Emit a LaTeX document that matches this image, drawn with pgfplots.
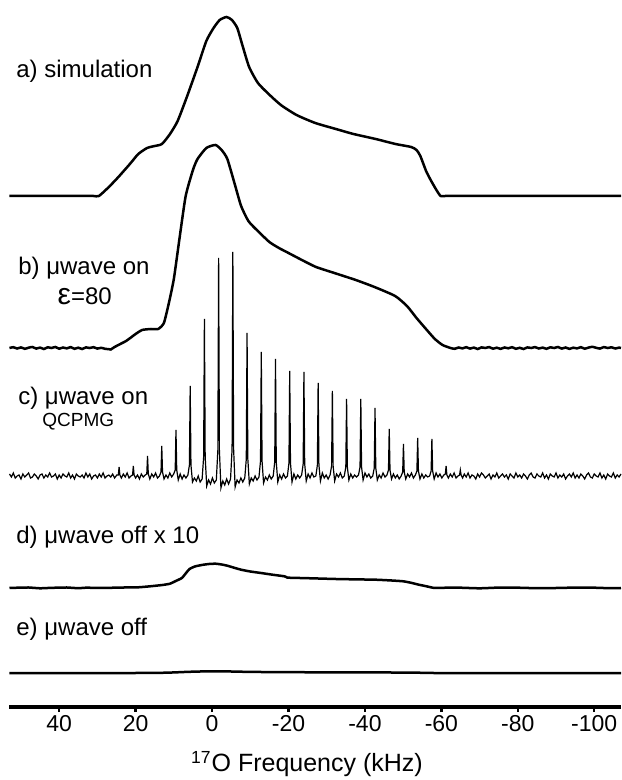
\documentclass[border=0pt]{standalone}
\usepackage{fontspec}
\setmainfont{Liberation Sans}
\usepackage{graphicx}
\usepackage{pgfplots}
\pgfplotsset{compat=1.18}
\begin{document}
\begin{tikzpicture}
\useasboundingbox (-4.75pt,-36.5pt) rectangle (305.75pt,353.5pt);
\begin{axis}[
  scale only axis,
  width=305.75pt, height=353.5pt,
  xmin=-107, xmax=53, x dir=reverse,
  ymin=5.5, ymax=712.5,
  axis x line=bottom, axis y line=none,
  x axis line style={-, line width=1.6pt},
  xtick={40,20,0,-20,-40,-60,-80,-100},
  major tick length=2.5pt,
  every tick/.style={black, line width=1.2pt},
  tick align=outside,
  /pgf/number format/assume math mode=true,
  xticklabel style={font=\fontsize{11.5}{13}\selectfont, anchor=north, yshift=2pt},
  xlabel={\textsuperscript{17}O Frequency (kHz)},
  xlabel style={font=\fontsize{12.5}{14}\selectfont, at={(rel axis cs:0.4865,-0.0806)}, anchor=center},
  clip=false,
]
% a) simulation
\addplot[black, line width=1.25pt, smooth, tension=0.35, y filter/.expression={y+516.5}] coordinates {
(53,0) (40,0) (33,0) (31,0) (29.6,0) (27,9) (24.5,19) (21.5,32) (19.3,42) (17,48) (15,50) (13.1,52)
(11,62) (9,75) (6.5,100) (3.8,129) (1.5,155) (-0.4,168) (-2,176) (-3.8,179)
(-5.2,176) (-6.6,168) (-8,150) (-9.7,129) (-12,113) (-14.8,102) (-18,91) (-22.1,81)
(-27,73) (-32.4,67) (-37,62) (-42.8,57) (-48,52) (-52.1,49) (-53.5,46) (-54.5,40)
(-56,25) (-57.2,16) (-58.7,6) (-59.8,0) (-61,0) (-63,0) (-70,0) (-85,0) (-107,0)
};
% b) mu wave on, eps=80
\addplot[black, line width=1.25pt, smooth, tension=0.35, y filter/.expression={y+364.5}] coordinates {
(53,0) (52,0.8) (51,-0.5) (50,0.6) (49,-0.8) (48,0.3) (47,1) (46,-0.6) (45,0.4)
(44,-1) (43,0.7) (42,0) (41,1) (40,-0.7) (39,0.5) (38,-0.4) (37,0.9) (36,-0.8)
(35,0.3) (34,-1) (33,0.6) (32,0) (31,0.8) (30,-0.6) (29,0.2) (28,-0.8) (27,-1.2)
(26.5,-1.5) (25.5,1) (24,4) (22.5,7) (21.4,10) (20,14) (18.3,18) (16,19) (14.1,19)
(12.6,25) (11.3,45) (10,69) (8.5,110) (6.9,152) (5,178) (3.8,189) (1.5,200)
(-0.9,203) (-2.5,198) (-4,189) (-6,163) (-7.6,142) (-9.5,127) (-11.7,118) (-15,106)
(-17.5,100) (-20,95) (-23.5,88) (-27.2,81) (-32,75) (-37.6,68) (-42.5,61) (-47.9,52)
(-51,42) (-53.5,30) (-56.2,18) (-58.3,9) (-60.3,3) (-62.4,0) (-63.5,-0.8) (-64.5,0.5)
(-65.5,-0.4) (-66.5,0.8) (-67.5,-0.6) (-68.5,0.4) (-69.5,-1) (-70.5,0.6) (-71.5,0)
(-72.5,0.9) (-73.5,-0.7) (-74.5,0.3) (-75.5,-0.9) (-76.5,0.5) (-77.5,-0.3) (-78.5,0.8)
(-79.5,-0.8) (-80.5,0.2) (-81.5,-1) (-82.5,0.6) (-83.5,0) (-84.5,0.9) (-85.5,-0.5)
(-86.5,0.4) (-87.5,-0.8) (-88.5,0.7) (-89.5,0) (-90.5,1) (-91.5,-0.6) (-92.5,0.5)
(-93.5,-0.9) (-94.5,0.3) (-95.5,-0.4) (-96.5,0.8) (-97.5,-0.7) (-98.5,0.4) (-99.5,1.2)
(-100.5,0.2) (-101.5,-0.6) (-102.5,0.9) (-103.5,0) (-104.5,0.7) (-105.5,-0.5) (-106.5,0.4) (-107,0)
};
% c) QCPMG
\addplot[black, line width=0.6pt, y filter/.expression={y+236.5}] coordinates {
(53,2) (52.5,-1) (52,3) (51.5,-2) (51,0) (50.5,1) (50,-3) (49.5,2) (49,-1) (48.5,1)
(48,3) (47.5,-2) (47,-1) (46.5,2) (46,0) (45.5,-3) (45,1) (44.5,2) (44,-2) (43.5,1)
(43,-1) (42.5,3) (42,-1) (41.5,0) (41,2) (40.5,-3) (40,1) (39.5,-2) (39,2) (38.5,0)
(38,-1) (37.5,3) (37,-2) (36.5,1) (36,-3) (35.5,2) (35,0) (34.5,-1) (34,1) (33.5,-2)
(33,3) (32.5,-1) (32,2) (31.5,-3) (31,0) (30.5,1) (30,-2) (29.5,2) (29,-1) (28.5,3)
(28,-2) (27.5,0) (27,1) (26.5,-1) (26,2) (25.5,-2)
(24.92,1) (24.52,1) (24.32,9) (24.12,1) (23.72,-2) (23.22,2) (22.72,-1) (22.22,3) (21.72,-2)
(21.2,0) (20.8,1) (20.6,10) (20.4,1) (20.0,-2) (19.5,1) (19.0,-3) (18.5,2) (18.0,-1)
(17.48,1) (17.08,2) (16.88,20) (16.68,2) (16.28,-3) (15.78,2) (15.28,-1) (14.78,3) (14.28,-2)
(13.76,0) (13.36,4) (13.16,30) (12.96,4) (12.56,-3) (12.06,1) (11.56,-2) (11.06,3) (10.56,-1)
(10.04,2) (9.64,6) (9.44,46) (9.24,6) (8.84,-4) (8.34,2) (7.84,-3) (7.34,1) (6.84,-2)
(6.32,1) (5.92,11) (5.72,90) (5.52,11) (5.12,-6) (4.62,-2) (4.12,-5) (3.62,0) (3.12,-6)
(2.6,-3) (2.2,19) (2.0,157) (1.8,19) (1.4,-10) (0.9,-4) (0.4,-8) (-0.1,-2) (-0.6,-7)
(-1.12,-4) (-1.52,26) (-1.72,218) (-1.92,26) (-2.32,-12) (-2.82,-5) (-3.32,-9) (-3.82,-3) (-4.32,-8)
(-4.84,-3) (-5.24,27) (-5.44,224) (-5.64,27) (-6.04,-11) (-6.54,-4) (-7.04,-7) (-7.54,-2) (-8.04,-6)
(-8.56,-2) (-8.96,17) (-9.16,143) (-9.36,17) (-9.76,-8) (-10.26,-2) (-10.76,-5) (-11.26,0) (-11.76,-4)
(-12.28,-1) (-12.68,15) (-12.88,124) (-13.08,15) (-13.48,-7) (-13.98,-1) (-14.48,-4) (-14.98,1) (-15.48,-3)
(-16.0,0) (-16.4,14) (-16.6,117) (-16.8,14) (-17.2,-6) (-17.7,1) (-18.2,-3) (-18.7,2) (-19.2,-2)
(-19.72,0) (-20.12,13) (-20.32,105) (-20.52,13) (-20.92,-6) (-21.42,2) (-21.92,-3) (-22.42,1) (-22.92,-2)
(-23.44,1) (-23.84,12) (-24.04,104) (-24.24,12) (-24.64,-5) (-25.14,2) (-25.64,-2) (-26.14,3) (-26.64,-1)
(-27.16,0) (-27.56,11) (-27.76,93) (-27.96,11) (-28.36,-5) (-28.86,3) (-29.36,-2) (-29.86,1) (-30.36,-3)
(-30.88,1) (-31.28,10) (-31.48,85) (-31.68,10) (-32.08,-5) (-32.58,2) (-33.08,-1) (-33.58,3) (-34.08,-2)
(-34.6,0) (-35.0,9) (-35.2,77) (-35.4,9) (-35.8,-4) (-36.3,2) (-36.8,-2) (-37.3,1) (-37.8,-1)
(-38.32,1) (-38.72,9) (-38.92,77) (-39.12,9) (-39.52,-4) (-40.02,3) (-40.52,-1) (-41.02,2) (-41.52,-2)
(-42.04,0) (-42.44,8) (-42.64,68) (-42.84,8) (-43.24,-4) (-43.74,1) (-44.24,-2) (-44.74,3) (-45.24,-1)
(-45.76,1) (-46.16,6) (-46.36,47) (-46.56,6) (-46.96,-3) (-47.46,2) (-47.96,-2) (-48.46,1) (-48.96,-3)
(-49.48,0) (-49.88,4) (-50.08,32) (-50.28,4) (-50.68,-3) (-51.18,2) (-51.68,-1) (-52.18,3) (-52.68,-2)
(-53.2,1) (-53.6,5) (-53.8,38) (-54.0,5) (-54.4,-3) (-54.9,2) (-55.4,-2) (-55.9,1) (-56.4,-1)
(-56.92,0) (-57.32,5) (-57.52,37) (-57.72,5) (-58.12,-3) (-58.62,3) (-59.12,-1) (-59.62,2) (-60.12,-2)
(-60.64,1) (-61.04,2) (-61.24,10) (-61.44,1) (-61.84,-2) (-62.34,2) (-62.84,-1) (-63.34,3) (-63.84,-2)
(-64.36,0) (-64.76,1) (-64.96,6) (-65.16,1) (-65.56,-2)
(-66,2) (-66.5,-1) (-67,3) (-67.5,-2) (-68,1) (-68.5,0) (-69,-3) (-69.5,2) (-70,-1) (-70.5,3)
(-71,1) (-71.5,-2) (-72,0) (-72.5,2) (-73,-3) (-73.5,1) (-74,-1) (-74.5,3) (-75,-2) (-75.5,0)
(-76,2) (-76.5,-1) (-77,1) (-77.5,-3) (-78,2) (-78.5,0) (-79,-2) (-79.5,3) (-80,-1) (-80.5,1)
(-81,-2) (-81.5,2) (-82,0) (-82.5,-3) (-83,1) (-83.5,3) (-84,-1) (-84.5,-2) (-85,2) (-85.5,0)
(-86,-1) (-86.5,3) (-87,-2) (-87.5,1) (-88,-3) (-88.5,2) (-89,0) (-89.5,-1) (-90,3) (-90.5,-2)
(-91,1) (-91.5,-1) (-92,2) (-92.5,-3) (-93,0) (-93.5,2) (-94,-1) (-94.5,3) (-95,-2) (-95.5,1)
(-96,-2) (-96.5,2) (-97,0) (-97.5,-3) (-98,1) (-98.5,3) (-99,-1) (-99.5,-2) (-100,2) (-100.5,0)
(-101,-1) (-101.5,3) (-102,-2) (-102.5,1) (-103,-3) (-103.5,2) (-104,0) (-104.5,-1) (-105,3) (-105.5,-2)
(-106,1) (-106.5,-1) (-107,2)
};
% d) mu wave off x 10
\addplot[black, line width=1.25pt, smooth, tension=0.35, y filter/.expression={y+124.5}] coordinates {
(53,0) (50,0.4) (48,0.5) (45,-0.3) (43,0) (40,0.4) (38,0.5) (35,-0.2) (33,0.3) (30,0.1)
(28,0) (25,0.4) (23,0.5) (19.3,0.7) (16.2,1.7) (13,3) (11,4.3) (9.5,7) (7.9,10) (6.8,15)
(5.9,19) (4.5,21.5) (2.7,23) (0.8,24) (-0.9,24.3) (-2.5,23.5) (-4,22.3) (-6,20) (-7.6,18.3)
(-10,16.5) (-12.8,15) (-16,13.2) (-18.9,11.7) (-19.6,10.6) (-20,10.3) (-25,9.8) (-32.4,9)
(-38,8.6) (-42.8,8.3) (-47,7.5) (-50,6.7) (-52,5.3) (-54.1,3.3) (-56,1.8) (-58.3,0)
(-62,0.4) (-65,0.3) (-70,-0.3) (-75,0.4) (-80,0.3) (-85,-0.2) (-90,0) (-95,0.4) (-100,0.3) (-104,-0.2) (-107,0)
};
% e) mu wave off
\addplot[black, line width=1.25pt, smooth, tension=0.35, y filter/.expression={y+39.5}] coordinates {
(53,0) (40,0) (30,0) (20,0) (12,0.3) (6,1.2) (2,1.6) (-1,1.7) (-5,1.5) (-10,1.1) (-20,0.8)
(-30,0.7) (-40,0.6) (-52,0.4) (-58,0) (-65,0) (-80,0) (-95,0) (-107,0)
};
% labels
\begin{scope}[every node/.style={inner sep=0pt, anchor=west, font=\fontsize{12}{14}\selectfont}]
\node at (axis cs:51.3,641.5) {a) simulation};
\node at (axis cs:50.8,444.5) {b) μwave on};
\node at (axis cs:40.5,416.5) {\scalebox{1.25}{ε}=80};
\node at (axis cs:50.8,314.5) {c) μwave on};
\node[font=\fontsize{9.5}{11}\selectfont] at (axis cs:44.5,290.5) {QCPMG};
\node at (axis cs:51.3,175.5) {d) μwave off x 10};
\node at (axis cs:51.3,83.5) {e) μwave off};
\end{scope}
\end{axis}
\end{tikzpicture}
\end{document}
